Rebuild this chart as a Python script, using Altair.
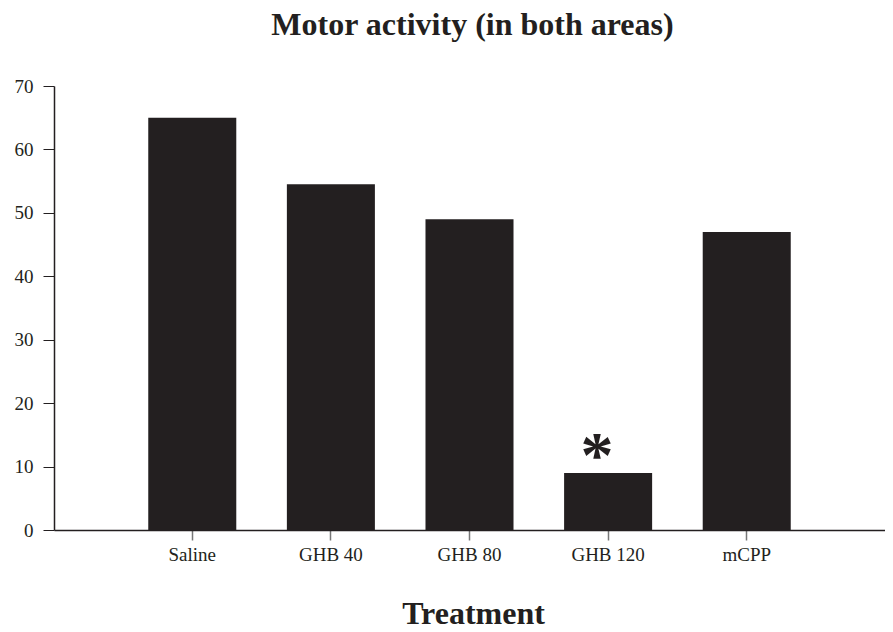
import altair as alt
import pandas as pd

treatments = ["Saline", "GHB 40", "GHB 80", "GHB 120", "mCPP"]
activity = [65, 54.5, 49, 9, 47]
marker_treatment = ["GHB 120"]
marker_value = [9]
marker_text = ["*"]
y_ticks = [0, 10, 20, 30, 40, 50, 60, 70]

df = pd.DataFrame({"Treatment": treatments, "Activity": activity})
mk = pd.DataFrame({"Treatment": marker_treatment, "Activity": marker_value, "label": marker_text})

FONT = "Liberation Serif"
INK = "#231f20"

x_enc = alt.X(
    "Treatment:N",
    sort=treatments,
    scale=alt.Scale(paddingInner=0.365, paddingOuter=0.68),
    axis=alt.Axis(
        title="Treatment", labelAngle=0, labelFont=FONT, labelFontSize=19,
        labelColor=INK, labelPadding=5, tickSize=10, tickColor="#777777",
        tickWidth=1.5, domainColor=INK, domainWidth=1.5,
        titleFont=FONT, titleFontSize=32, titleFontWeight="bold", titleColor=INK,
        titleX=419, titleY=93, titleBaseline="alphabetic", titleAlign="center",
    ),
)
y_enc = alt.Y(
    "Activity:Q",
    scale=alt.Scale(domain=[0, 70], nice=False),
    axis=alt.Axis(
        values=y_ticks, title=None, labelFont=FONT, labelFontSize=19,
        labelColor=INK, labelPadding=10, tickSize=11, tickColor=INK,
        domainColor=INK, domainWidth=1.5, grid=False,
    ),
)

bars = alt.Chart(df).mark_bar(color=INK).encode(x=x_enc, y=y_enc)

star = alt.Chart(mk).mark_text(
    font=FONT, fontSize=66, fontWeight="bold", color=INK,
    baseline="alphabetic", dx=-11, dy=4
).encode(
    x=alt.X("Treatment:N", sort=treatments),
    y=alt.Y("Activity:Q"),
    text="label:N",
)

chart = alt.layer(bars, star).properties(
    width=831,
    height=444,
    autosize=alt.AutoSizeParams(type="none"),
    padding={"left": 46, "top": 78, "right": 0, "bottom": 94},
    title=alt.TitleParams(
        "Motor activity (in both areas)", font=FONT, fontSize=32,
        fontWeight="bold", color=INK, anchor="middle", frame="group",
        baseline="alphabetic", offset=10, dx=3,
    ),
).configure_view(stroke=None)

chart.save("out.html", embed_options={"renderer": "svg", "actions": False})
